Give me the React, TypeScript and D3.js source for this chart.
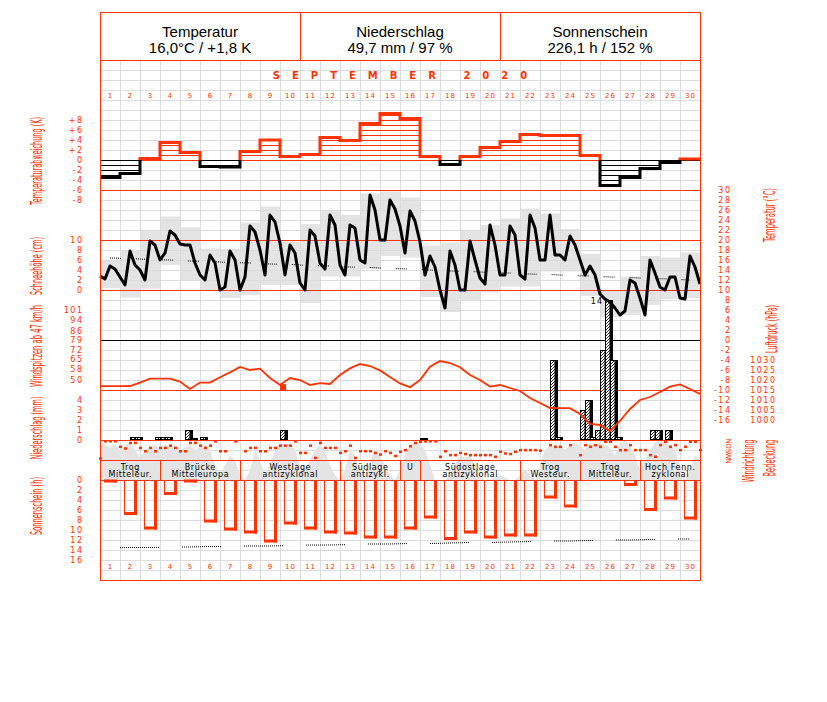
import React from 'react';
import * as d3 from 'd3';

const RED = '#ff3300';
const GRID = '#dcdcdc';
const BAND = '#e4e4e4';

const headerTitles = ['Temperatur', 'Niederschlag', 'Sonnenschein'];
const headerValues = ['16,0°C / +1,8 K', '49,7 mm / 97 %', '226,1 h / 152 %'];
const monthLabel = 'SEPTEMBER 2020';
const days = [1,2,3,4,5,6,7,8,9,10,11,12,13,14,15,16,17,18,19,20,21,22,23,24,25,26,27,28,29,30];

// daily temperature deviation (K)
const tempDeviation = [-3.5,-2.7,0.3,3.5,1.5,-1.3,-1.4,1.7,4.0,0.7,1.1,4.5,3.9,7.3,9.3,8.3,0.7,-0.9,0.7,2.5,3.7,5.1,4.9,4.9,0.9,-5.1,-3.5,-1.7,-0.5,0.2];

// 6-hourly temperature (°C), Sep 1 00h .. Oct 1 00h
const temp6h = [
  12.8,12.2,14.8,14.2, 12.6,11.0,17.8,15.0, 14.0,12.0,19.8,19.0, 16.0,17.4,21.8,21.0, 19.2,19.0,19.0,15.4,
  13.0,12.0,17.0,15.4, 10.0,10.6,17.8,16.0, 10.0,12.6,22.8,21.6, 18.0,13.0,25.0,23.6, 19.4,13.0,19.0,17.4,
  11.4,10.0,22.0,20.8, 15.4,14.2,25.0,23.0, 15.0,13.0,23.0,22.4, 16.0,15.4,29.0,26.0, 20.0,20.0,28.0,26.2,
  22.8,17.4,25.8,23.8, 19.6,13.0,16.8,14.6, 10.0,6.4,17.8,15.0, 10.0,10.0,19.8,16.0, 12.4,11.2,23.0,19.0,
  13.0,13.0,22.8,21.0, 13.0,12.2,25.0,22.4, 16.0,16.0,25.0,17.0, 17.0,16.0,20.8,19.0, 16.0,13.0,14.8,13.0,
  9.2,8.2,7.6,6.4, 5.0,5.8,12.0,11.4, 8.4,5.0,16.0,13.4, 10.6,10.0,12.6,12.6, 8.4,8.2,16.8,14.6,
  11.2
];
const tempMax = [16,18,22,24.7,22.5,18.3,18.2,23.5,26.7,19.7,23.2,25.8,25,29.3,29.7,28.5,18.9,19.5,22,23,24.3,26.3,25.3,22.2,17.2,9.8,12.7,16.8,16.5,17.5];
const tempMin = [10.4,8.5,10.3,15,12,9.8,8.4,9,11,11,7.4,12.7,12.7,14.2,16.8,16.5,8.6,5.6,8,9.5,10.7,10.7,13.7,13.7,8.8,4.6,5,7,8.2,8.4];
const tempNormal = [16.4,16.3,16.1,16.0,15.8,15.7,15.5,15.4,15.2,15.1,14.9,14.8,14.6,14.5,14.3,14.2,14.0,13.8,13.7,13.5,13.4,13.2,13.1,12.9,12.8,12.6,12.5,12.3,12.2,12.0];

// 12-hourly air pressure (hPa)
const pressure12h = [
  1016.9,1016.9,1016.9,1017,1018.7,1020.7,1020.7,1020.7,1019.2,1015.5,
  1018.7,1018.7,1021.4,1023.8,1026.5,1025,1025.7,1021,1017.5,1021,
  1020,1017.5,1018.4,1018,1022.5,1025.8,1028,1027,1024.8,1021.5,
  1018.3,1016.4,1020,1026.7,1029.5,1028.5,1026.4,1022.5,1020,1016.7,
  1017.5,1016,1014.5,1011,1008.5,1006,1005.9,1005.9,1003,998,
  997.5,994.5,999.5,1005.5,1010,1011.5,1014,1016.7,1017.8,1015.5,
  1013
];

// wind peaks >= 47 km/h per day (null = none)
const windPeak = [null,null,null,null,null,null,null,null,null,47,null,null,null,null,null,null,null,null,null,null,null,null,null,null,null,null,null,null,null,null];

// precipitation in 6-hour slots
const precipDays = [2,2,3,4,4,5,5,6,10,17,23,23,25,25,25,25,26,26,26,26,28,28,29];
const precipQuarter = [2,3,3,0,1,1,2,0,0,0,2,3,0,1,2,3,0,1,2,3,2,3,1];
const precipMm = [0.3,0.3,0.3,0.3,0.3,1.0,0.2,0.3,1.0,0.2,8.0,0.3,3.0,4.0,0.3,1.0,9.0,14.0,8.0,0.3,1.0,1.0,1.0];

// 6-hourly wind direction (degrees, null = calm/missing)
const windDir6h = [
  310,0,0,0,100,130,30,30,120,180, 120,180,120,120,80,120,180,180,30,30,
  80,120,80,0,180,180,null,0,null,180, 120,120,180,180,120,120,80,80,80,0,
  210,210,80,300,30,120,120,120,210,180, 80,300,180,180,180,210,240,180,210,265,
  190,160,90,30,10,0,0,0,280,180, 250,250,210,230,250,250,250,250,250,280,
  190,220,230,190,160,160,160,160,170,null, 70,100,100,null,70,null,250,70,100,70,
  100,10,10,100,160,160,70,160,160,160, 250,280,70,10,100,70,160,100,10,10,
  160
];

// 6-hourly cloud cover (octas)
const cloud6h = [
  7.5,7,6.5,7,6,7,7.5,6,4.5,6, 6.5,7,6,7,6.5,7,6,6.5,7,6,
  6.5,7,6,3,1,3,5,4,1,0, 2,6,4,1,3,6,7.5,7,7.5,6,
  3,2,4,6,7,6,3,1,0,2, 6,5,2,1,4,6,5,3,1,0,
  2,5,7,7.5,7,6,3,0,0,0, 1,3,5,4.5,5,3,1,0,0,0.5,
  1,0.5,0,0,1,2,1,0,3,6, 7,6.5,7,6,7,7.5,7,6,7.5,7,
  7.5,7,6.5,5,7,8,7,5,2,4, 6,7.5,8,7.5,7,6,3,0,2,5,
  4
];

const weatherFrom = [1,4,8,13,16,17,22,25,28];
const weatherTo = [3,7,12,15,16,21,24,27,30];
const weatherLine1 = ['Trog','Brücke','Westlage','Südlage','U','Südostlage','Trog','Trog','Hoch Fenn.'];
const weatherLine2 = ['Mitteleur.','Mitteleuropa','antizyklonal','antizykl.','','antizyklonal','Westeur.','Mitteleur.','zyklonal'];

const sunshine = [0.5,7,9.9,3,0.5,8.5,10.1,10.7,12.5,8.9,9.9,10.7,10.9,11.7,11.7,9.9,7.7,12,10.7,11.7,11.3,11.3,3.7,5.5,0,0,1.2,6.2,3.9,7.9];
const sunNormal = [13.6,13.5,13.5,13.4,13.4,13.3,13.3,13.2,13.2,13.1,13.0,13.0,12.9,12.8,12.8,12.7,12.7,12.6,12.5,12.5,12.4,12.3,12.2,12.2,12.1,12.0,12.0,11.9,11.8,11.8];

const devTicks = [8,6,4,2,0,-2,-4,-6,-8];
const snowTicks = [10,8,6,4,2,0];
const windTicks = [101,94,86,79,72,65,58,50];
const precTicks = [4,3,2,1,0];
const sunTicks = [0,2,4,6,8,10,12,14,16];
const tempTicks = [30,28,26,24,22,20,18,16,14,12,10,8,6,4,2,0,-2,-4,-6,-8,-10,-12,-14,-16];
const pressTicks = [1030,1025,1020,1015,1010,1005,1000];
const dirLabels = ['N','O','S','W','N'];
const dirValues = [0,90,180,270,360];

const TICK_FONT = 'DejaVu Sans, sans-serif';

export default function App() {
  const x = d3.scaleLinear().domain([0, 30]).range([100, 700]);
  const yDev = d3.scaleLinear().domain([-8, 8]).range([200, 120]);
  const yTemp = d3.scaleLinear().domain([-16, 30]).range([420, 190]);
  const ySnow = d3.scaleLinear().domain([0, 10]).range([290, 240]);
  const yWind = d3.scaleLinear().domain([42.7, 101]).range([390, 310]);
  const yPress = d3.scaleLinear().domain([1000, 1030]).range([420, 360]);
  const yPrec = d3.scaleLinear().domain([0, 4]).range([440, 400]);
  const yDir = d3.scaleLinear().domain([0, 360]).range([441, 461]);
  const yCloud = d3.scaleLinear().domain([0, 8]).range([480, 440]);
  const ySun = d3.scaleLinear().domain([0, 16]).range([480, 560]);

  const devStep = d3.line<number>().x((d, i) => x(i)).y(d => yDev(d)).curve(d3.curveStepAfter)([...tempDeviation, tempDeviation[tempDeviation.length - 1]]) || '';
  const tempLine = d3.line<number>().x((d, i) => x(i / 4)).y(d => yTemp(d))(temp6h) || '';
  const normalLine = d3.line<number>().x((d, i) => x(i + 0.5)).y(d => yTemp(d))(tempNormal) || '';
  const pressLine = d3.line<number>().x((d, i) => x(i / 2)).y(d => yPress(d))(pressure12h) || '';
  const cloudArea = d3.area<number>().x((d, i) => x(i / 4)).y0(yCloud(0)).y1(d => yCloud(d))(cloud6h) || '';
  const sunNormalLine = d3.line<number>().x((d, i) => x(i + 0.5)).y(d => ySun(d))(sunNormal) || '';

  const gridH: number[] = d3.range(60, 581, 10);
  const redH = [60, 160, 190, 240, 290, 390, 440, 460, 480];
  const q = x(0.25) - x(0);

  const leftTitle = (label: string, cx: number, cy: number, len: number) => (
    <text key={label} transform={`translate(${cx},${cy}) rotate(-90)`} textAnchor="middle" dominantBaseline="central"
      fontSize={15} fill={RED} fontFamily={TICK_FONT} textLength={len} lengthAdjust="spacingAndGlyphs">{label}</text>
  );

  const tickText = (keyp: string, vals: number[], scale: (v: number) => number, xr: number, fmt: (v: number) => string) =>
    vals.map(v => (
      <text key={keyp + v} x={xr + 1.5} y={scale(v) + 3} textAnchor="end" fontSize={8} letterSpacing={1.5}
        fill={RED} fontFamily={TICK_FONT}>{fmt(v)}</text>
    ));

  return (
    <svg width={827} height={702} style={{ position: 'absolute', left: 0, top: 0, background: '#fff' }}>
      <defs>
        <pattern id="hatch" width="3" height="3" patternUnits="userSpaceOnUse">
          <rect width="3" height="3" fill="#fff" />
          <path d="M-1,1 l2,-2 M0,3 l3,-3 M2,4 l2,-2" stroke="#000" strokeWidth="0.8" />
        </pattern>
        <clipPath id="above"><rect x={95} y={100} width={610} height={60} /></clipPath>
        <clipPath id="below"><rect x={95} y={160} width={610} height={45} /></clipPath>
        <clipPath id="plot"><rect x={100} y={60} width={600} height={520} /></clipPath>
      </defs>
      <rect x={0} y={0} width={827} height={702} fill="#fff" />

      {/* temperature min/max bands */}
      {tempMax.map((mx, i) => (
        <rect key={'band' + i} x={x(i)} y={yTemp(mx)} width={x(i + 1) - x(i)} height={yTemp(tempMin[i]) - yTemp(mx)} fill={BAND} />
      ))}

      {/* grid */}
      <g shapeRendering="crispEdges" stroke={GRID} strokeWidth={1}>
        {gridH.map(y => <line key={'gh' + y} x1={100} x2={700} y1={y} y2={y} />)}
        {d3.range(0, 31).map(i => <line key={'gv' + i} x1={x(i)} x2={x(i)} y1={60} y2={460} />)}
        {d3.range(0, 31).map(i => <line key={'gv2' + i} x1={x(i)} x2={x(i)} y1={480} y2={580} />)}
      </g>

      {/* cloud cover */}
      <path d={cloudArea} fill={BAND} />

      {/* red panel lines */}
      <g shapeRendering="crispEdges">
        {redH.map(y => <line key={'rh' + y} x1={100} x2={700} y1={y} y2={y} stroke={RED} strokeWidth={1} />)}
        <line x1={100} x2={700} y1={340} y2={340} stroke="#000" strokeWidth={1} />
        <line x1={300} x2={300} y1={12} y2={60} stroke={RED} />
        <line x1={500} x2={500} y1={12} y2={60} stroke={RED} />
        {weatherFrom.map((f, i) => (
          <line key={'ws' + i} x1={x(f - 1)} x2={x(f - 1)} y1={460} y2={480} stroke={RED} />
        ))}
      </g>

      {/* temperature deviation hatch */}
      {tempDeviation.map((d, i) => {
        const s = Math.sign(d);
        const n = Math.floor(Math.abs(d) - 1e-6);
        const col = d > 0 ? RED : '#000';
        const out = [] as any[];
        for (let k = 1; k <= n; k++) {
          out.push(<line key={'dh' + i + '_' + k} x1={x(i)} x2={x(i + 1)} y1={yDev(s * k)} y2={yDev(s * k)} stroke={col} strokeWidth={1} shapeRendering="crispEdges" />);
        }
        if (d < 0) out.push(<line key={'dz' + i} x1={x(i)} x2={x(i + 1)} y1={yDev(0)} y2={yDev(0)} stroke="#000" strokeWidth={1} shapeRendering="crispEdges" />);
        return out;
      })}
      <path d={devStep} fill="none" stroke={RED} strokeWidth={3} clipPath="url(#above)" />
      <path d={devStep} fill="none" stroke="#000" strokeWidth={3} clipPath="url(#below)" />

      {/* normal temperature dotted */}
      <path d={normalLine} fill="none" stroke="#000" strokeWidth={1} strokeDasharray="1 1 1 1 1 1 1 1 1 1 1 15" />

      {/* wind peaks */}
      {windPeak.map((v, i) => v == null ? null : (
        <rect key={'wp' + i} x={x(i)} y={yWind(v)} width={6} height={yWind(42.7) - yWind(v)} fill={RED} />
      ))}

      {/* precipitation */}
      {precipMm.map((mm, i) => {
        const x0 = x(precipDays[i] - 1 + precipQuarter[i] / 4);
        const top = yPrec(mm);
        const base = yPrec(0);
        return (
          <g key={'pr' + i}>
            <rect x={x0 + q} y={top} width={3} height={base - top} fill="#000" />
            <rect x={x0 + 0.5} y={top + 0.5} width={q - 0.5} height={Math.max(base - top - 1, 1)} fill="url(#hatch)" stroke="#000" strokeWidth={1} />
            {mm >= 10 ? (
              <text x={x0 - 2} y={top + 4} textAnchor="end" fontSize={8} letterSpacing={1} fontFamily={TICK_FONT} fill="#000">{mm}</text>
            ) : null}
          </g>
        );
      })}

      {/* pressure */}
      <path d={pressLine} fill="none" stroke={RED} strokeWidth={1.8} clipPath="url(#plot)" />

      {/* temperature curve */}
      <path d={tempLine} fill="none" stroke="#000" strokeWidth={3} strokeLinejoin="round" />

      {/* wind direction dots */}
      {windDir6h.map((v, i) => v == null ? null : (
        <rect key={'wd' + i} x={x(i / 4) - 1} y={yDir(v) - 1} width={3} height={2.5} fill={RED} />
      ))}

      {/* weather types */}
      {weatherFrom.map((f, i) => {
        const cx = (x(f - 1) + x(weatherTo[i])) / 2;
        return (
          <g key={'wt' + i} fontSize={8} letterSpacing={0.6} fontFamily={TICK_FONT} fill="#000" textAnchor="middle">
            <text x={cx + 0.3} y={469.5}>{weatherLine1[i]}</text>
            <text x={cx + 0.3} y={477}>{weatherLine2[i]}</text>
          </g>
        );
      })}

      {/* sunshine */}
      {sunshine.map((h, i) => {
        if (h <= 0) return null;
        const xl = x(i) + 4;
        const xr = x(i) + 17;
        const yb = ySun(h);
        return (
          <g key={'sun' + i}>
            <path d={`M${xl + 0.5},480 V${yb - 1} H${xr}`} fill="none" stroke={RED} strokeWidth={1} />
            <rect x={xr - 3} y={480} width={3} height={yb - 480} fill={RED} />
            <rect x={xl} y={yb - 3} width={xr - xl} height={3} fill={RED} />
          </g>
        );
      })}
      <path d={sunNormalLine} fill="none" stroke="#000" strokeWidth={1}
        strokeDasharray="1 1 1 1 1 1 1 1 1 1 1 1 1 1 1 1 1 1 1 1 1 1 1 1 1 1 1 1 1 1 1 1 1 1 1 1 1 1 1 23" strokeDashoffset={52} />

      {/* frame */}
      <rect x={100} y={12} width={600} height={568} fill="none" stroke={RED} strokeWidth={1} shapeRendering="crispEdges" />

      {/* header */}
      {headerTitles.map((t, i) => (
        <g key={'hd' + i} fontFamily="Liberation Sans, Arial, sans-serif" fontSize={15} fill="#000" textAnchor="middle">
          <text x={200 + i * 200} y={37}>{t}</text>
          <text x={200 + i * 200} y={53}>{headerValues[i]}</text>
        </g>
      ))}
      <text x={406} y={79} textAnchor="middle" fontSize={10} fontWeight="bold" letterSpacing={12} fill={RED} fontFamily={TICK_FONT}>{monthLabel}</text>

      {/* day numbers */}
      {days.map((d, i) => (
        <g key={'dn' + d} fontSize={7} letterSpacing={1} fill={RED} fontFamily={TICK_FONT} textAnchor="middle">
          <text x={(x(i) + x(i + 1)) / 2 + 0.5} y={97.5}>{d}</text>
          <text x={(x(i) + x(i + 1)) / 2 + 0.5} y={568.5}>{d}</text>
        </g>
      ))}

      {/* left ticks */}
      {tickText('dev', devTicks, yDev, 82, v => (v > 0 ? '+' + v : String(v)))}
      {tickText('snow', snowTicks, ySnow, 82, v => String(v))}
      {tickText('wind', windTicks, yWind, 82, v => String(v))}
      {tickText('prec', precTicks, yPrec, 82, v => String(v))}
      {tickText('sun', sunTicks, ySun, 82, v => String(v))}
      {/* right ticks */}
      {tickText('temp', tempTicks, yTemp, 730, v => String(v))}
      {tickText('press', pressTicks, yPress, 775, v => String(v))}

      {/* wind direction labels */}
      {dirLabels.map((l, i) => (
        <text key={'dl' + i} transform={`translate(728,${yDir(dirValues[i])}) rotate(90)`} textAnchor="middle" dominantBaseline="central"
          fontSize={7} fill={RED} fontFamily={TICK_FONT}>{l}</text>
      ))}

      {/* axis titles */}
      {leftTitle('Temperaturabweichung (K)', 37, 161, 88)}
      {leftTitle('Schneehöhe (cm)', 37, 266, 58)}
      {leftTitle('Windspitzen ab 47 km/h', 37, 346, 82)}
      {leftTitle('Niederschlag (mm)', 37, 428, 63)}
      {leftTitle('Sonnenschein (h)', 37, 506, 58)}
      {leftTitle('Temperatur (°C)', 770, 215, 54)}
      {leftTitle('Luftdruck (hPa)', 772, 329, 48)}
      {leftTitle('Windrichtung', 749, 461, 43)}
      {leftTitle('Bedeckung', 770, 458, 37)}
    </svg>
  );
}
